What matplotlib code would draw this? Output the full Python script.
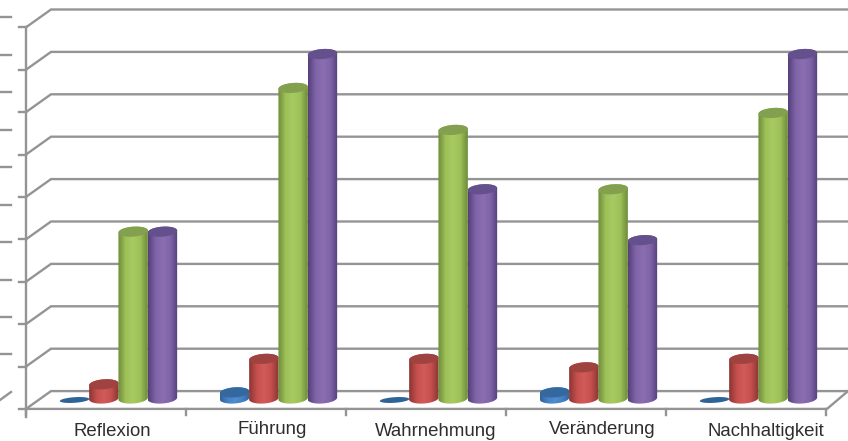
import numpy as np
import matplotlib
matplotlib.use("Agg")
import matplotlib.pyplot as plt
from matplotlib.patches import Polygon, PathPatch
from matplotlib.path import Path
from matplotlib.colors import LinearSegmentedColormap

plt.rcParams['font.family'] = ['Liberation Sans', 'DejaVu Sans']

categories = ["Reflexion", "Führung", "Wahrnehmung", "Veränderung", "Nachhaltigkeit"]
series_a = [0.0, 0.18, 0.0, 0.18, 0.0]
series_b = [0.37, 0.97, 0.97, 0.77, 0.97]
series_c = [3.97, 7.36, 6.37, 4.97, 6.77]
series_d = [3.97, 8.16, 4.97, 3.77, 8.16]
grid_levels = list(range(10))

W, H = 848, 441
PX_X, PX_Y = 160.0, 42.4          # pixels per category / per value unit
X0, Y0 = 118.5, 400.0             # pixel position of first category, value 0
DEPTH = 0.21                      # half of the 3D floor depth, in value units
BASE = 1.5 / PX_Y                 # cylinders stand slightly behind the value-0 line

fig = plt.figure(figsize=(W / 100, H / 100), dpi=100)
ax = fig.add_axes([0, 0, 1, 1])
ax.set_xlim((0 - X0) / PX_X, (W - X0) / PX_X)
ax.set_ylim((Y0 - H) / PX_Y, Y0 / PX_Y)
ax.axis("off")

GRID = "#949494"
LW = 1.7
back_x = (51 - X0) / PX_X
front_x = (26 - X0) / PX_X
right_x = (827 - X0) / PX_X
edge_x = (W - X0) / PX_X
tick_x = (19 - X0) / PX_X

# Back wall, side wall and value ticks
for lv in grid_levels:
    ax.plot([front_x, back_x, edge_x], [lv - DEPTH, lv + DEPTH, lv + DEPTH],
            color=GRID, lw=LW, zorder=1, solid_joinstyle="miter")
    ax.plot([tick_x, front_x], [lv - DEPTH, lv - DEPTH], color=GRID, lw=LW, zorder=1)
ax.plot([front_x, front_x], [grid_levels[-1] - DEPTH, -DEPTH - 8 / PX_Y], color=GRID, lw=LW, zorder=1)

# Floor edge and category ticks
ax.plot([front_x, right_x, edge_x], [-DEPTH, -DEPTH, DEPTH], color=GRID, lw=LW, zorder=1)
for i in range(len(categories) + 1):
    xt = i - 0.5 + (26 + 80 - X0) / PX_X
    ax.plot([xt, xt], [-DEPTH, -DEPTH - 6 / PX_Y], color=GRID, lw=LW, zorder=1)

# Stubs along the left border
stub_pixels = [17, 55, 92, 130, 167, 205, 242, 280, 317, 354]
for yp in stub_pixels:
    ax.plot([-X0 / PX_X, (11 - X0) / PX_X], [(Y0 - yp) / PX_Y] * 2, color=GRID, lw=LW, zorder=1)
ax.plot([-X0 / PX_X, (11 - X0) / PX_X], [0.0, (Y0 - 392) / PX_Y], color=GRID, lw=LW, zorder=1)


def ellipse_points(cx, cy, half_w, half_h=5.0, tilt=-1.0, n=60, a0=0.0, a1=2 * np.pi):
    """Ellipse with a slight upward tilt; sizes are given in pixels, result in data units."""
    t = np.linspace(a0, a1, n)
    px = half_w * np.cos(t)
    py = half_h * np.sin(t) + tilt * np.cos(t)
    return np.column_stack([cx + px / PX_X, cy - py / PX_Y])


def shade(hex_dark, hex_mid, hex_light):
    return LinearSegmentedColormap.from_list("c", [hex_dark, hex_mid, hex_light, hex_mid, hex_dark])


def cylinder(x, value, cmap, top_color, flat_color):
    half_w = 14.7
    if value <= 0:
        ax.add_patch(Polygon(ellipse_points(x, 0, half_w, half_h=2.8, tilt=-1.0),
                             closed=True, fc=flat_color, ec="none", zorder=3))
        return
    lower = ellipse_points(x, BASE, half_w, a0=0, a1=np.pi)
    upper = ellipse_points(x, value, half_w, a0=np.pi, a1=2 * np.pi)
    body = np.vstack([lower, upper])
    patch = PathPatch(Path(np.vstack([body, body[0]]), closed=True), fc="none", ec="none", zorder=3)
    ax.add_patch(patch)
    grad = np.linspace(0, 1, 64).reshape(1, -1)
    w = half_w / PX_X
    im = ax.imshow(grad, extent=[x - w, x + w, -0.3, value + 0.2], cmap=cmap,
                   aspect="auto", zorder=3, interpolation="bilinear")
    im.set_clip_path(patch)
    ax.add_patch(Polygon(ellipse_points(x, value, half_w), closed=True, fc=top_color, ec="none", zorder=3))


styles = [
    (series_a, shade("#2f6496", "#4581c4", "#4f8dd0"), "#35689f", "#2e6496"),
    (series_b, shade("#8a3533", "#c44f4c", "#d25c59"), "#9f4340", "#9f4340"),
    (series_c, shade("#6f8a3a", "#9ec058", "#a8ca62"), "#83a04e", "#83a04e"),
    (series_d, shade("#54407a", "#8064a8", "#8a6eb0"), "#64508c", "#64508c"),
]
step = 29.3 / PX_X
ax.set_autoscale_on(False)
for s, (vals, cmap, top, flat) in enumerate(styles):
    for i, v in enumerate(vals):
        cylinder(i + (s - 1.5) * step, v, cmap, top, flat)

# Category labels sit on alternating rows
label_x = [112, 272, 436, 602, 766]
label_y = [432, 430, 432, 430, 432]
for name, lx, ly in zip(categories, label_x, label_y):
    ax.text((lx - X0) / PX_X, (Y0 - ly) / PX_Y, name, ha="center", va="center",
            fontsize=13.4, color="#2e2e2e", zorder=5)

fig.savefig("out.png", dpi=100)
